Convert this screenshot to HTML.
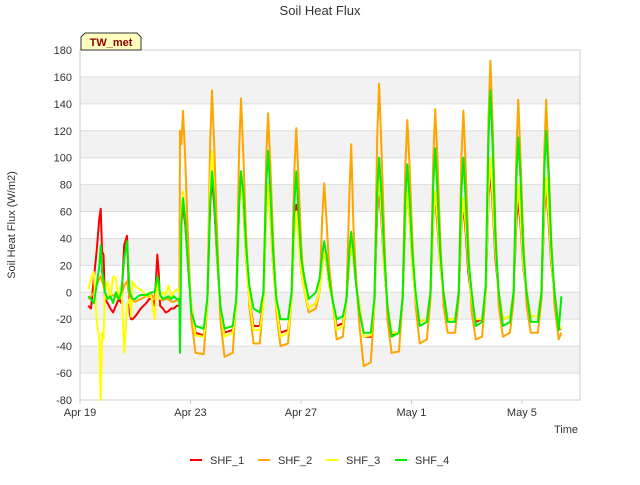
<!DOCTYPE html>
<html><head><meta charset="utf-8">
<style>
body{margin:0;background:#fff;font-family:"Liberation Sans",sans-serif;}
svg text{font-family:"Liberation Sans","DejaVu Sans",sans-serif;}
</style></head>
<body>
<svg id="chart" width="640" height="480" xmlns="http://www.w3.org/2000/svg">
<rect width="640" height="480" fill="#fff"/>
<text x="320" y="15" text-anchor="middle" font-size="13" fill="#333">Soil Heat Flux</text>
<g id="bands"></g>
<g id="yaxis"></g>
<g id="xaxis"></g>
<rect x="80" y="50" width="500" height="350" fill="none" stroke="#ccc"/>
<g id="series"></g>
<text x="15" y="225" transform="rotate(-90 15 225)" text-anchor="middle" font-size="11" fill="#333">Soil Heat Flux (W/m2)</text>
<text x="566" y="433" text-anchor="middle" font-size="11" fill="#333">Time</text>
<g>
<path d="M81,50 L81,37 L85,33 L137,33 L141,37 L141,50 Z" fill="#ffffc0" stroke="#333" stroke-width="1"/>
<text x="111" y="46" text-anchor="middle" font-size="11" font-weight="bold" fill="#8b0000">TW_met</text>
</g>
<g id="legend"></g>
</svg>
<script>
const yTicks=[-80,-60,-40,-20,0,20,40,60,80,100,120,140,160,180];
const xTickDays=[0,4,8,12,16];
const xTickLabels=["Apr 19","Apr 23","Apr 27","May 1","May 5"];
const seriesNames=["SHF_1","SHF_2","SHF_3","SHF_4"];
const seriesColors=["#ff0000","#ffa500","#ffff00","#00ee00"];
const times=[0.3,0.4,0.5,0.6,0.7,0.75,0.8,0.85,0.9,1.0,1.1,1.2,1.3,1.4,1.5,1.6,1.7,1.8,1.85,1.9,2.0,2.1,2.2,2.3,2.4,2.5,2.6,2.7,2.8,2.85,2.9,3.0,3.1,3.2,3.3,3.4,3.5,
3.6,3.62,3.67,3.73,3.81,3.91,4.03,4.18,
4.48,4.61,4.71,4.78,4.86,4.96,5.08,5.23,
5.53,5.66,5.76,5.83,5.91,6.01,6.13,6.28,
6.51,6.64,6.74,6.81,6.89,6.99,7.11,7.26,
7.53,7.66,7.76,7.83,7.91,8.01,8.13,8.28,
8.54,8.67,8.77,8.84,8.92,9.02,9.14,9.29,
9.52,9.65,9.75,9.82,9.90,10.00,10.12,10.27,
10.53,10.66,10.76,10.83,10.91,11.01,11.13,11.28,
11.55,11.68,11.78,11.85,11.93,12.03,12.15,12.30,
12.56,12.69,12.79,12.86,12.94,13.04,13.16,13.31,
13.58,13.71,13.81,13.88,13.96,14.06,14.18,14.33,
14.56,14.69,14.79,14.86,14.94,15.04,15.16,15.31,
15.57,15.70,15.80,15.87,15.95,16.05,16.17,16.32,
16.58,16.71,16.81,16.88,16.96,17.06,17.18,17.33,17.43];
const shf1=[-10,-12,10,30,55,62,30,28,-5,-8,-12,-15,-10,-5,-8,35,42,-15,-20,-20,-18,-15,-12,-10,-8,-5,-5,-10,28,15,-10,-12,-15,-14,-12,-12,-10,
-10,45,55,65,50,20,-10,-30,
-32,-10,65,85,65,25,-10,-30,
-28,-8,65,85,65,25,-5,-25,
-25,-8,60,80,55,20,-10,-30,
-28,-5,50,65,45,15,0,-12,
-8,0,22,30,22,5,-5,-25,
-23,-5,25,35,25,5,-10,-33,
-33,-10,60,80,55,20,-10,-32,
-30,-5,55,75,55,20,-5,-22,
-20,0,55,72,50,20,0,-20,
-20,-2,48,65,45,15,-5,-22,
-20,0,70,90,65,25,0,-20,
-18,0,52,70,50,18,0,-18,
-18,0,60,80,55,22,0,-27,-27];
const shf2=[-5,-3,0,5,10,12,8,5,0,-5,-3,-2,-3,-5,-3,5,8,-5,-5,-6,-7,-6,-5,-4,-3,-3,-2,-5,5,3,-5,-6,-5,-5,-7,-7,-6,
-6,120,110,135,100,40,-20,-45,
-46,-10,110,150,110,45,-20,-48,
-45,-5,105,144,105,45,-10,-38,
-38,-5,100,133,95,40,-15,-40,
-38,-5,90,122,85,35,0,-15,
-12,0,55,81,55,20,-5,-35,
-33,-5,70,110,50,10,-25,-55,
-52,-10,115,155,110,45,-20,-45,
-44,-5,95,128,95,40,-10,-38,
-35,-5,100,136,100,40,-10,-30,
-30,-5,100,135,95,35,-15,-35,
-33,0,130,172,125,50,-10,-33,
-30,-5,105,143,100,40,-10,-30,
-30,-5,105,143,100,40,-10,-35,-30];
const shf3=[2,10,15,-20,-35,-80,-30,-35,0,8,-5,12,10,-5,5,-45,-10,-5,-18,8,5,3,2,0,-3,0,-5,-20,10,5,-5,0,-2,5,-3,0,2,
2,-5,60,75,55,20,-10,-32,
-33,-10,80,105,75,25,-10,-33,
-30,-10,65,85,65,25,-5,-28,
-28,-10,60,80,55,20,-10,-33,
-30,-5,45,60,40,15,0,-12,
-8,0,22,30,22,5,-5,-28,
-25,-5,25,35,25,5,-10,-33,
-32,-10,65,85,60,20,-10,-30,
-30,-5,55,75,55,20,-5,-22,
-20,0,55,75,55,20,0,-20,
-20,0,50,70,50,20,-5,-20,
-20,0,75,100,70,30,0,-20,
-18,0,60,80,55,20,0,-18,
-18,0,65,85,60,25,0,-25,-27];
const shf4=[-3,-5,-8,5,20,35,15,10,0,-5,-3,-8,0,-5,0,25,38,0,-3,-5,-5,-3,-2,-2,-2,-1,0,0,12,8,-2,-5,-4,-3,-5,-3,-5,
-5,-45,50,70,55,20,-15,-25,
-27,-5,65,90,70,30,-10,-27,
-25,-5,65,90,75,35,5,-12,
-15,0,80,105,75,30,-5,-20,
-20,0,65,90,60,25,10,-5,
0,10,28,38,28,10,-5,-20,
-18,-5,30,45,30,5,-15,-30,
-30,-5,75,100,75,30,-10,-33,
-30,-5,70,95,70,30,0,-25,
-22,0,80,107,75,30,0,-22,
-22,0,75,100,70,25,0,-25,
-22,5,115,150,110,40,0,-25,
-22,0,85,115,85,30,0,-22,
-22,0,90,120,90,35,0,-28,-3];
const allSeries=[shf1,shf2,shf3,shf4];

const NS="http://www.w3.org/2000/svg";
function xS(d){return 80+d*27.62;}
function yS(v){return 400-(v+80)*350/260;}
function mk(t,a,p){const e=document.createElementNS(NS,t);for(const k in a)e.setAttribute(k,a[k]);p.appendChild(e);return e;}

const bands=document.getElementById('bands');
for(let i=0;i<yTicks.length-1;i++){
  const lo=yTicks[i],hi=yTicks[i+1];
  if(((lo+80)/20)%2===1){
    const r=mk('rect',{x:80,y:yS(hi),width:500,height:yS(lo)-yS(hi),fill:'#f2f2f2'},bands);
    
    
  }
}
const ya=document.getElementById('yaxis');
yTicks.forEach(v=>{
  const l=mk('line',{x1:80,x2:580,y1:yS(v),y2:yS(v),stroke:'#ddd'},ya);
  
  
  const t=mk('text',{x:72,y:yS(v)+4,'text-anchor':'end','font-size':11,fill:'#333'},ya);
  t.textContent=v;
  
  
});
const xa=document.getElementById('xaxis');
xTickDays.forEach((d,i)=>{
  const l=mk('line',{x1:xS(d),x2:xS(d),y1:400,y2:404,stroke:'#ccc'},xa);
  
  
  const t=mk('text',{x:xS(d),y:416,'text-anchor':'middle','font-size':11,fill:'#333'},xa);
  t.textContent=xTickLabels[i];
  
  
});
const sg=document.getElementById('series');
allSeries.forEach((vals,si)=>{
  const pts=vals.map((v,i)=>xS(times[i]).toFixed(1)+','+yS(v).toFixed(1)).join(' ');
  const p=mk('polyline',{points:pts,fill:'none',stroke:seriesColors[si],'stroke-width':2,'stroke-linejoin':'round'},sg);
  
  
});
const lg=document.getElementById('legend');
const lx=[190,258,326,395];
seriesNames.forEach((n,i)=>{
  const g=mk('g',{},lg);
  
  
  mk('line',{x1:lx[i],x2:lx[i]+12,y1:460,y2:460,stroke:seriesColors[i],'stroke-width':2},g);
  const t=mk('text',{x:lx[i]+20,y:464,'font-size':11,fill:'#333'},g);
  t.textContent=n;
});
</script>
</body></html>
